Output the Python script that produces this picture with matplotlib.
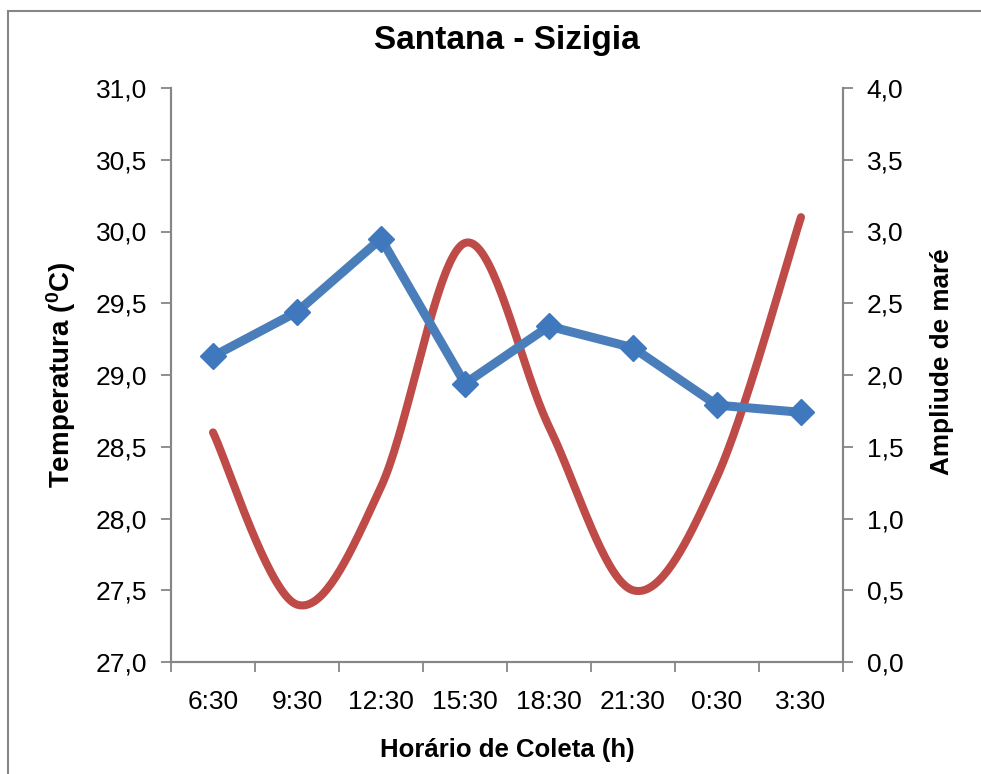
import numpy as np
import matplotlib
matplotlib.use("Agg")
import matplotlib.pyplot as plt
from matplotlib.patches import Rectangle
from matplotlib.ticker import FuncFormatter, MultipleLocator, FixedLocator

plt.rcParams['font.family'] = ['Liberation Sans', 'DejaVu Sans']
plt.rcParams['mathtext.fontset'] = 'custom'
plt.rcParams['mathtext.rm'] = 'Liberation Sans'
plt.rcParams['mathtext.bf'] = 'Liberation Sans:bold'

categories = ["6:30", "9:30", "12:30", "15:30", "18:30", "21:30", "0:30", "3:30"]
temperatura = [29.13, 29.44, 29.95, 28.94, 29.34, 29.19, 28.79, 28.74]
amplitude = [1.60, 0.40, 1.22, 2.92, 1.64, 0.50, 1.29, 3.10]

BLUE = "#4A7EBB"
RED = "#BE4B48"
GREY = "#868686"


def excel_smooth(x, y, n=40):
    """Bezier smoothing similar to Excel's smoothed line."""
    x = np.asarray(x, float)
    y = np.asarray(y, float)
    xs, ys = [], []
    m = len(x)
    for i in range(m - 1):
        p0 = np.array([x[max(i - 1, 0)], y[max(i - 1, 0)]])
        p1 = np.array([x[i], y[i]])
        p2 = np.array([x[i + 1], y[i + 1]])
        p3 = np.array([x[min(i + 2, m - 1)], y[min(i + 2, m - 1)]])
        c1 = p1 + (p2 - p0) / 6.0
        c2 = p2 - (p3 - p1) / 6.0
        t = np.linspace(0, 1, n)[:, None]
        pts = ((1 - t) ** 3) * p1 + 3 * ((1 - t) ** 2) * t * c1 + 3 * (1 - t) * t ** 2 * c2 + t ** 3 * p2
        if i > 0:
            pts = pts[1:]
        xs.extend(pts[:, 0])
        ys.extend(pts[:, 1])
    return np.array(xs), np.array(ys)


fig = plt.figure(figsize=(9.81, 7.74), dpi=100)
fig.patches.append(Rectangle((8 / 981, -0.1), 1.2, 1.1 - 11 / 774,
                             transform=fig.transFigure, fill=False,
                             edgecolor=GREY, linewidth=1.5))

ax = fig.add_axes([171 / 981, 1 - 662 / 774, (843 - 171) / 981, (662 - 88) / 774])
ax2 = ax.twinx()

x = np.arange(len(categories))

# red smoothed curve on secondary axis
sx, sy = excel_smooth(x, amplitude)
ax2.plot(sx, sy, color=RED, linewidth=5.8, solid_capstyle='round', zorder=2)

# blue line with diamond markers
ax.plot(x, temperatura, color=BLUE, linewidth=6.5, marker='D', markersize=13,
        markerfacecolor="#3F78BD", markeredgecolor="#3F78BD", zorder=3)
ax.set_zorder(ax2.get_zorder() + 1)
ax.patch.set_visible(False)

ax.set_xlim(-0.5, len(categories) - 0.5)
ax.set_ylim(27.0, 31.0)
ax2.set_ylim(0.0, 4.0)

fmt = FuncFormatter(lambda v, p: f"{v:.1f}".replace(".", ","))
ax.yaxis.set_major_locator(MultipleLocator(0.5))
ax.yaxis.set_major_formatter(fmt)
ax2.yaxis.set_major_locator(MultipleLocator(0.5))
ax2.yaxis.set_major_formatter(fmt)

ax.set_xticks(x)
ax.set_xticklabels(categories)
ax.xaxis.set_minor_locator(FixedLocator(np.arange(-0.5, len(categories), 1.0)))
ax.tick_params(axis='x', which='major', length=0, pad=20, labelsize=19)
ax.tick_params(axis='x', which='minor', length=7, width=1.3, color=GREY, direction='out')
ax.tick_params(axis='y', length=7, width=1.3, color=GREY, direction='out', pad=10, labelsize=19)
ax2.tick_params(axis='y', length=7, width=1.3, color=GREY, direction='out', pad=10, labelsize=19)

for a in (ax, ax2):
    a.spines['top'].set_visible(False)
    for s in ('left', 'right', 'bottom'):
        a.spines[s].set_color(GREY)
        a.spines[s].set_linewidth(1.5)

fig.text(507 / 981, 1 - 40 / 774, "Santana - Sizigia", fontsize=24, fontweight='bold',
         ha='center', va='center')
fig.text(507 / 981, 1 - 750 / 774, "Horário de Coleta (h)", fontsize=18.5, fontweight='bold',
         ha='center', va='center')
fig.text(61 / 981, 1 - 375 / 774, r"Temperatura ($\mathbf{^0}$C)", rotation=90,
         fontsize=20, fontweight='bold', ha='center', va='center')
fig.text(942 / 981, 1 - 362 / 774, "Ampliude de maré", rotation=90,
         fontsize=18.8, fontweight='bold', ha='center', va='center')

fig.savefig("out.png", dpi=100)
